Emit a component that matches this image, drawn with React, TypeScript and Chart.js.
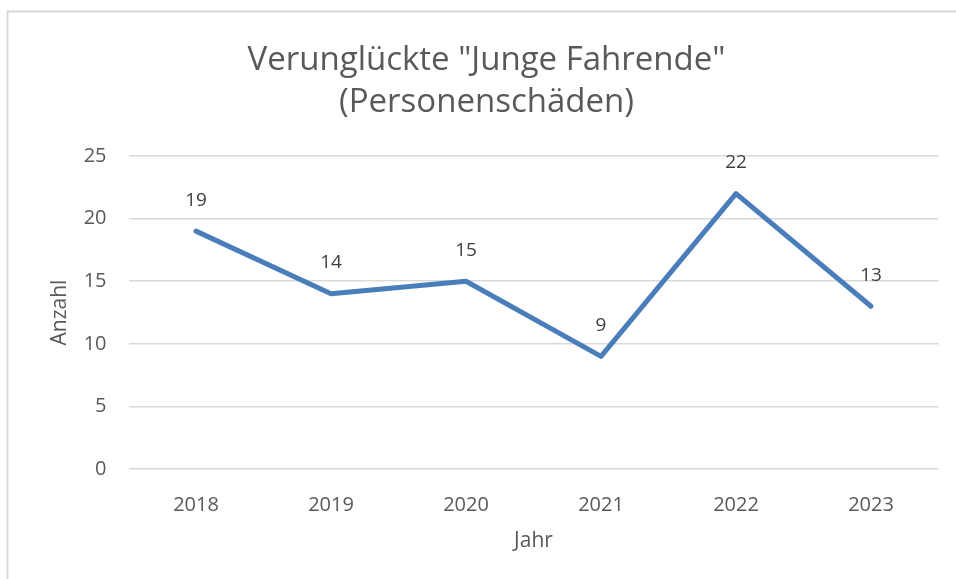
import React, { useEffect, useRef } from "react";
import { Chart, registerables } from "chart.js";

Chart.register(...registerables);

const years = ["2018", "2019", "2020", "2021", "2022", "2023"];
const counts = [19, 14, 15, 9, 22, 13];
const titleLines = ['Verunglückte "Junge Fahrende"', "(Personenschäden)"];
const yTitle = "Anzahl";
const xTitle = "Jahr";

const FONT = "'Open Sans', sans-serif";
const TEXT = "#595959";

const frame = {
  id: "frame",
  beforeDraw(chart: any) {
    const ctx = chart.ctx;
    ctx.save();
    ctx.fillStyle = "#ffffff";
    ctx.fillRect(0, 0, chart.width, chart.height);
    ctx.strokeStyle = "#d9d9d9";
    ctx.lineWidth = 2;
    ctx.beginPath();
    ctx.moveTo(7.5, chart.height);
    ctx.lineTo(7.5, 11.5);
    ctx.lineTo(chart.width, 11.5);
    ctx.stroke();
    ctx.restore();
  },
};

const labels = {
  id: "pointLabels",
  afterDatasetsDraw(chart: any) {
    const ctx = chart.ctx;
    const meta = chart.getDatasetMeta(0);
    ctx.save();
    ctx.font = `19px ${FONT}`;
    ctx.fillStyle = "#404040";
    ctx.textAlign = "center";
    ctx.textBaseline = "middle";
    meta.data.forEach((pt: any, i: number) => {
      ctx.fillText(String(chart.data.datasets[0].data[i]), pt.x, pt.y - 31);
    });
    ctx.restore();
  },
};

export default function App() {
  const ref = useRef<HTMLCanvasElement>(null);
  useEffect(() => {
    if (!ref.current) return;
    const chart = new Chart(ref.current, {
      type: "line",
      data: {
        labels: years,
        datasets: [
          {
            data: counts,
            borderColor: "#4a7ebb",
            borderWidth: 5,
            pointRadius: 0,
            tension: 0,
            borderCapStyle: "round",
            borderJoinStyle: "round",
          },
        ],
      },
      options: {
        responsive: false,
        animation: false,
        layout: { padding: { left: 34.5, right: 17.5, top: 0, bottom: 0 } },
        plugins: {
          legend: { display: false },
          tooltip: { enabled: false },
          title: {
            display: true,
            text: titleLines,
            color: TEXT,
            font: { family: FONT, size: 33, weight: "normal", lineHeight: 42 / 33 },
            padding: { top: 40, bottom: 32 },
          },
        },
        scales: {
          x: {
            offset: true,
            grid: { display: false },
            border: { display: false },
            ticks: { color: TEXT, font: { family: FONT, size: 20 }, padding: 16 },
            title: {
              display: true,
              text: xTitle,
              color: TEXT,
              font: { family: FONT, size: 21, lineHeight: 1.2 },
              padding: { top: 0, bottom: 25.4 },
            },
            afterFit(scale: any) {
              scale.height = 110;
            },
          },
          y: {
            min: 0,
            max: 25,
            ticks: { stepSize: 5, color: TEXT, font: { family: FONT, size: 20 }, padding: 22 },
            grid: { color: "#d9d9d9", lineWidth: 1.5, drawTicks: false },
            border: { display: false },
            title: {
              display: true,
              text: yTitle,
              color: TEXT,
              font: { family: FONT, size: 21, lineHeight: 1.2 },
              padding: { top: 12.9, bottom: 0 },
            },
            afterFit(scale: any) {
              scale.width = 94;
            },
          },
        },
      },
      plugins: [frame, labels],
    });
    return () => chart.destroy();
  }, []);
  return (
    <div style={{ position: "fixed", left: 0, top: 0, width: 956, height: 579, background: "#fff" }}>
      <canvas ref={ref} width={956} height={579} style={{ display: "block" }} />
    </div>
  );
}
